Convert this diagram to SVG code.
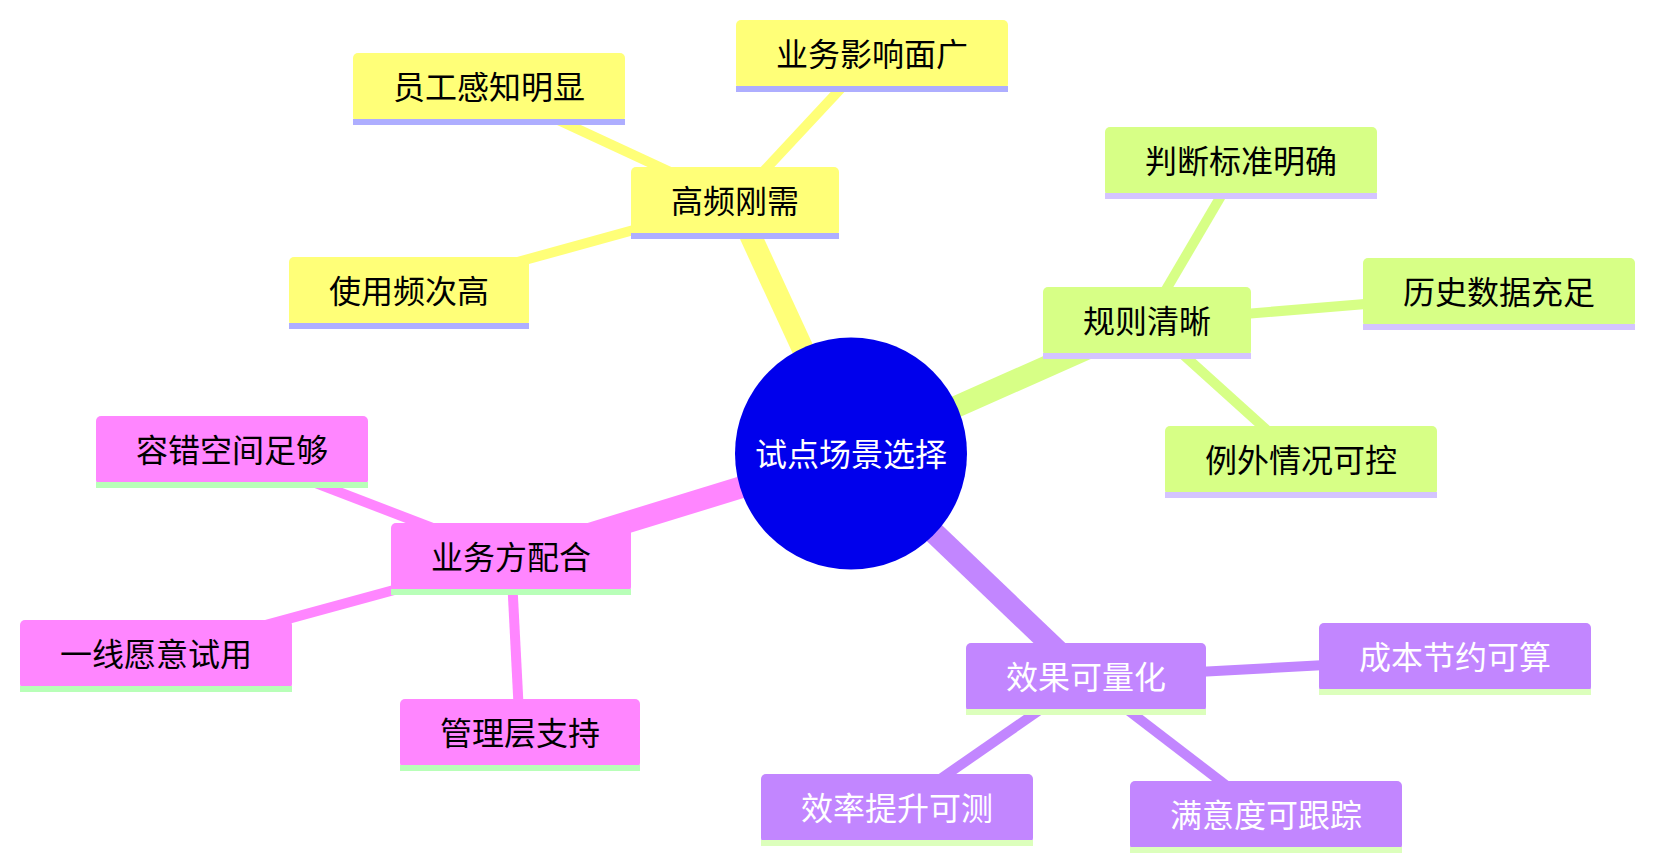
<svg xmlns="http://www.w3.org/2000/svg" width="1654" height="867" viewBox="0 0 1654 867">
<style>
text{font-family:"Noto Sans CJK SC","Noto Sans",sans-serif;font-size:32px;text-anchor:middle;dominant-baseline:central}
.ey{stroke:#ffff78}.eg{stroke:#d7ff86}.ep{stroke:#ff86ff}.eu{stroke:#c286ff}
.d1{stroke-width:22;stroke-linecap:butt}.d2{stroke-width:10;stroke-linecap:butt}
.ny rect{fill:#ffff78}.ny line{stroke:#aeaeff}
.ng rect{fill:#d7ff86}.ng line{stroke:#d4c4ff}
.np rect{fill:#ff86ff}.np line{stroke:#b8ffb8}
.nu rect{fill:#c286ff}.nu line{stroke:#dcffbc}
.node line{stroke-width:6}
.node text{fill:#000000}
.nu text{fill:#ffffff}
</style>
<rect width="1654" height="867" fill="#ffffff"/>
<g id="connectors">
<line class="ey d1" x1="851" y1="453.5" x2="735" y2="202"/>
<line class="ey d2" x1="735" y1="202" x2="489" y2="88"/>
<line class="ey d2" x1="735" y1="202" x2="872" y2="55"/>
<line class="ey d2" x1="735" y1="202" x2="409" y2="292"/>
<line class="eg d1" x1="851" y1="453.5" x2="1147" y2="322"/>
<line class="eg d2" x1="1147" y1="322" x2="1241" y2="162"/>
<line class="eg d2" x1="1147" y1="322" x2="1499" y2="293"/>
<line class="eg d2" x1="1147" y1="322" x2="1301" y2="461"/>
<line class="ep d1" x1="851" y1="453.5" x2="511" y2="558"/>
<line class="ep d2" x1="511" y1="558" x2="232" y2="451"/>
<line class="ep d2" x1="511" y1="558" x2="156" y2="655"/>
<line class="ep d2" x1="511" y1="558" x2="520" y2="734"/>
<line class="eu d1" x1="851" y1="453.5" x2="1086" y2="678"/>
<line class="eu d2" x1="1086" y1="678" x2="1455" y2="658"/>
<line class="eu d2" x1="1086" y1="678" x2="897" y2="809"/>
<line class="eu d2" x1="1086" y1="678" x2="1266" y2="816"/>
</g>
<g id="root">
<circle cx="851" cy="453.5" r="116" fill="#0000ec"/>
<text x="851" y="452" fill="#ffffff">试点场景选择</text>
</g>
<g id="n-gaopin" class="node ny"><rect x="631" y="167" width="208" height="69" rx="5"/><line x1="631" y1="236" x2="839" y2="236"/><text x="735" y="199">高频刚需</text></g>
<g id="n-yuangong" class="node ny"><rect x="353" y="53" width="272" height="69" rx="5"/><line x1="353" y1="122" x2="625" y2="122"/><text x="489" y="85">员工感知明显</text></g>
<g id="n-yewuyingxiang" class="node ny"><rect x="736" y="20" width="272" height="69" rx="5"/><line x1="736" y1="89" x2="1008" y2="89"/><text x="872" y="52">业务影响面广</text></g>
<g id="n-shiyong" class="node ny"><rect x="289" y="257" width="240" height="69" rx="5"/><line x1="289" y1="326" x2="529" y2="326"/><text x="409" y="289">使用频次高</text></g>
<g id="n-guize" class="node ng"><rect x="1043" y="287" width="208" height="69" rx="5"/><line x1="1043" y1="356" x2="1251" y2="356"/><text x="1147" y="319">规则清晰</text></g>
<g id="n-panduan" class="node ng"><rect x="1105" y="127" width="272" height="69" rx="5"/><line x1="1105" y1="196" x2="1377" y2="196"/><text x="1241" y="159">判断标准明确</text></g>
<g id="n-lishi" class="node ng"><rect x="1363" y="258" width="272" height="69" rx="5"/><line x1="1363" y1="327" x2="1635" y2="327"/><text x="1499" y="290">历史数据充足</text></g>
<g id="n-liwai" class="node ng"><rect x="1165" y="426" width="272" height="69" rx="5"/><line x1="1165" y1="495" x2="1437" y2="495"/><text x="1301" y="458">例外情况可控</text></g>
<g id="n-yewufang" class="node np"><rect x="391" y="523" width="240" height="69" rx="5"/><line x1="391" y1="592" x2="631" y2="592"/><text x="511" y="555">业务方配合</text></g>
<g id="n-rongcuo" class="node np"><rect x="96" y="416" width="272" height="69" rx="5"/><line x1="96" y1="485" x2="368" y2="485"/><text x="232" y="448">容错空间足够</text></g>
<g id="n-yixian" class="node np"><rect x="20" y="620" width="272" height="69" rx="5"/><line x1="20" y1="689" x2="292" y2="689"/><text x="156" y="652">一线愿意试用</text></g>
<g id="n-guanli" class="node np"><rect x="400" y="699" width="240" height="69" rx="5"/><line x1="400" y1="768" x2="640" y2="768"/><text x="520" y="731">管理层支持</text></g>
<g id="n-xiaoguo" class="node nu"><rect x="966" y="643" width="240" height="69" rx="5"/><line x1="966" y1="712" x2="1206" y2="712"/><text x="1086" y="675">效果可量化</text></g>
<g id="n-chengben" class="node nu"><rect x="1319" y="623" width="272" height="69" rx="5"/><line x1="1319" y1="692" x2="1591" y2="692"/><text x="1455" y="655">成本节约可算</text></g>
<g id="n-xiaolv" class="node nu"><rect x="761" y="774" width="272" height="69" rx="5"/><line x1="761" y1="843" x2="1033" y2="843"/><text x="897" y="806">效率提升可测</text></g>
<g id="n-manyi" class="node nu"><rect x="1130" y="781" width="272" height="69" rx="5"/><line x1="1130" y1="850" x2="1402" y2="850"/><text x="1266" y="813">满意度可跟踪</text></g>
</svg>
